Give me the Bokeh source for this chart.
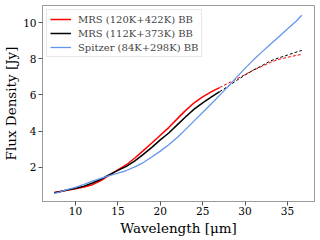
from bokeh.plotting import figure
from bokeh.models import Range1d, FixedTicker, Legend, LegendItem, Title
from bokeh.embed import file_html
from bokeh.resources import INLINE

wavelength = [7.5, 8, 9, 10, 11, 12, 13, 14, 15, 16, 17, 18, 19, 20, 21, 22, 23, 24,
              25, 26, 27, 28, 29, 30, 31, 32, 33, 34, 35, 36, 36.7]
mrs_120_422 = [0.62, 0.66, 0.74, 0.82, 0.92, 1.05, 1.27, 1.57, 1.86, 2.15, 2.52, 2.93,
               3.35, 3.78, 4.20, 4.68, 5.15, 5.57, 5.90, 6.17, 6.41, 6.65, 6.88, 7.13,
               7.37, 7.58, 7.80, 7.97, 8.08, 8.18, 8.24]
mrs_112_373 = [0.60, 0.65, 0.75, 0.85, 0.97, 1.14, 1.35, 1.60, 1.84, 2.06, 2.36, 2.72,
               3.11, 3.52, 3.90, 4.35, 4.80, 5.22, 5.57, 5.88, 6.18, 6.48, 6.80, 7.10,
               7.38, 7.62, 7.88, 8.05, 8.20, 8.36, 8.46]
spitzer_84_298 = [0.57, 0.63, 0.77, 0.90, 1.07, 1.25, 1.40, 1.55, 1.68, 1.83, 2.03, 2.27,
                  2.58, 2.90, 3.25, 3.65, 4.10, 4.57, 5.03, 5.50, 5.98, 6.46, 6.97, 7.47,
                  7.94, 8.38, 8.80, 9.22, 9.64, 10.06, 10.40]
mrs_limit = 27
labels = ["MRS (120K+422K) BB", "MRS (112K+373K) BB", "Spitzer (84K+298K) BB"]
x_ticks = [10, 15, 20, 25, 30, 35]
y_ticks = [2, 4, 6, 8, 10]

FONT = "DejaVu Serif"
FRAME = "#9a9a9a"

p = figure(width=320, height=240, output_backend="svg", toolbar_location=None,
           x_range=Range1d(6.1, 38.2), y_range=Range1d(0.12, 10.94),
           min_border_left=40, min_border_right=6, min_border_top=5, min_border_bottom=39)
p.grid.visible = False
p.outline_line_color = FRAME
p.outline_line_width = 1

n = sum(1 for w in wavelength if w <= mrs_limit)
items = []
for ys, col, lab in [(mrs_120_422, "red", labels[0]), (mrs_112_373, "black", labels[1])]:
    r = p.line(wavelength[:n], ys[:n], line_color=col, line_width=1.5)
    p.line(wavelength[n - 1:], ys[n - 1:], line_color=col, line_width=1, line_dash="3 2")
    items.append(LegendItem(label=lab, renderers=[r]))
rb = p.line(wavelength, spitzer_84_298, line_color="#6495ED", line_width=1.3)
items.append(LegendItem(label=labels[2], renderers=[rb]))

leg = Legend(items=items, location="top_left", label_text_font=FONT,
             label_text_font_size="10px", glyph_width=21, glyph_height=12,
             label_height=12, spacing=2, padding=3, margin=4, label_standoff=7,
             border_line_color="#d0d0d0", background_fill_alpha=0.85)
p.add_layout(leg)

for ax in (p.xaxis, p.yaxis):
    ax.axis_line_color = FRAME
    ax.major_tick_line_color = "#555555"
    ax.minor_tick_line_color = None
    ax.major_tick_out = 4
    ax.major_tick_in = 0
    ax.major_label_text_font = FONT
    ax.major_label_text_font_size = "10.5px"
    ax.major_label_text_color = "black"
    ax.axis_label_text_font = FONT
    ax.axis_label_text_font_size = "13.5px"
    ax.axis_label_text_font_style = "normal"
    ax.axis_label_text_color = "black"

p.xaxis.major_label_standoff = 1
p.yaxis.major_label_standoff = 2
p.yaxis.axis_label_standoff = 1
p.xaxis.ticker = FixedTicker(ticks=x_ticks)
p.yaxis.ticker = FixedTicker(ticks=y_ticks)
p.yaxis.axis_label = "Flux Density [Jy]"

xlabel = Title(text="Wavelength [μm]", align="center", text_font=FONT,
               text_font_size="13.5px", text_font_style="normal", text_color="black",
               standoff=0, offset=0)
p.add_layout(xlabel, "below")

open("out.html", "w").write(file_html(p, INLINE))
